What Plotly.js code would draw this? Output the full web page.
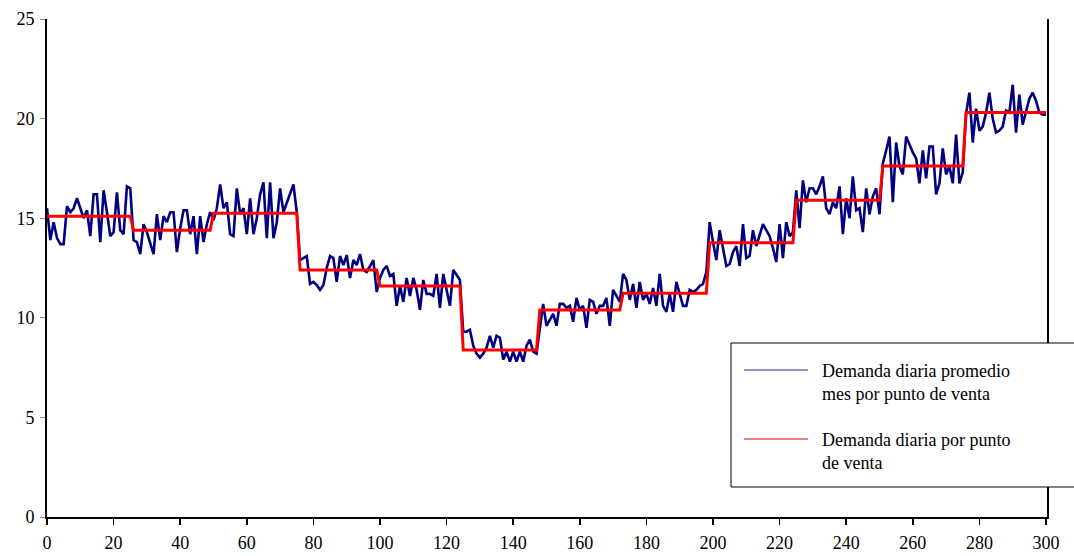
<!DOCTYPE html>
<html>
<head>
<meta charset="utf-8">
<script src="https://cdn.plot.ly/plotly-3.0.1.min.js"></script>
<style>
html,body{margin:0;padding:0;background:#fff;}
#chart{width:1074px;height:556px;}
</style>
</head>
<body>
<div id="chart"></div>
<script>
// Daily demand (blue), one value per day, days 0..300, grouped by month
const dailyM1 = [15.5,13.9,14.8,14.0,13.7,13.7,15.6,15.3,15.5,16.0,15.5,15.0,15.4,14.1,16.2,16.2,13.8,16.4,15.3,14.1,14.3,16.3,14.4,14.2,16.6,16.5];
const dailyM2 = [13.9,13.8,13.2,14.7,14.3,13.7,13.2,15.2,13.9,15.1,14.8,15.3,15.3,13.3,14.5,15.4,15.4,14.2,15.1,13.2,15.1,13.8,14.7,15.3];
const dailyM3 = [14.9,15.5,16.7,15.5,15.8,14.2,14.1,16.5,15.2,15.5,14.2,16.0,14.2,15.0,16.2,16.8,14.0,16.8,14.0,14.8,16.5,15.3,15.8,16.2,16.7,15.3];
const dailyM4 = [12.9,13.0,13.1,11.7,11.8,11.65,11.4,11.65,12.5,13.1,13.0,11.8,13.1,12.65,13.15,12.0,12.9,12.65,13.2,12.4,12.3,12.6,12.9,11.3];
const dailyM5 = [12.0,12.4,12.6,12.1,12.2,10.6,11.6,10.8,12.0,11.1,12.0,11.4,10.4,11.9,11.2,11.2,11.1,12.2,10.5,12.2,11.3,10.6,12.4,12.15,11.9];
const dailyM6 = [9.3,9.3,9.4,8.6,8.2,8.0,8.2,8.5,9.1,8.5,9.1,9.0,7.9,8.3,7.8,8.3,7.8,8.3,7.8,8.6,8.9,8.3,8.2];
const dailyM7 = [9.4,10.7,9.6,9.9,10.2,9.6,10.7,10.7,10.5,10.6,9.8,11.0,10.4,10.6,9.5,10.9,10.8,10.2,10.6,10.6,11.0,9.6,11.4,11.1,10.8];
const dailyM8 = [12.2,11.9,10.9,11.7,10.5,11.8,10.9,11.2,10.7,11.5,10.6,12.2,10.6,10.3,11.2,10.3,11.8,11.2,10.6,10.6,11.4,11.3,11.4,11.6,11.7,12.3];
const dailyM9 = [14.8,13.8,12.9,14.4,13.5,12.6,12.7,13.3,13.6,12.6,14.7,13.0,13.1,14.4,13.6,14.2,14.7,14.4,14.1,13.5,12.8,14.7,13.0,14.8,14.1,14.3];
const dailyM10 = [16.4,14.5,16.9,15.8,16.5,16.5,16.2,16.6,17.1,15.5,15.2,15.8,15.5,16.6,14.2,16.0,15.0,17.1,15.4,15.5,14.3,16.5,15.2,16.1,16.5,15.2];
const dailyM11 = [17.75,18.4,19.1,15.8,18.8,17.6,17.2,19.1,18.7,18.3,18.0,16.75,18.4,17.0,18.6,18.6,16.2,16.75,18.5,17.2,17.6,16.75,19.2,16.75,17.3];
const dailyM12 = [20.26,21.3,18.8,20.5,19.4,19.6,20.3,21.3,20.0,19.3,19.4,19.6,20.4,20.3,21.7,19.3,21.2,19.7,20.3,21.0,21.3,20.9,20.3,20.2,20.2];

// Monthly average (red step line)
const monthlyMean = [15.1,14.4,15.25,12.4,11.6,8.38,10.39,11.23,13.77,15.9,17.62,20.31];

const xTicks = [0,20,40,60,80,100,120,140,160,180,200,220,240,260,280,300];
const yTicks = [0,5,10,15,20,25];
const legendLabels = ["Demanda diaria promedio<br>mes por punto de venta", "Demanda diaria por punto<br>de venta"];

const months = [dailyM1,dailyM2,dailyM3,dailyM4,dailyM5,dailyM6,dailyM7,dailyM8,dailyM9,dailyM10,dailyM11,dailyM12];
const days = [], blue = [], red = [];
let d = 0;
months.forEach((arr, mi) => {
  arr.forEach(v => { days.push(d); blue.push(v); red.push(monthlyMean[mi]); d++; });
});

const serif = "Liberation Serif, Times New Roman, serif";

const traces = [
  {x: days, y: blue, type: 'scatter', mode: 'lines', line: {color: '#000080', width: 2.6}, name: legendLabels[0], showlegend: false, hoverinfo: 'x+y'},
  {x: days, y: red, type: 'scatter', mode: 'lines', line: {color: '#FF0000', width: 3}, name: legendLabels[1], showlegend: false, hoverinfo: 'x+y'}
];

const L = 47, R = 1047, T = 19, B = 517;
const px = v => (v - L) / (R - L);
const py = v => (B - v) / (B - T);

const layout = {
  width: 1074, height: 556,
  margin: {l: L, r: 1074 - R, t: T, b: 556 - B},
  paper_bgcolor: '#ffffff', plot_bgcolor: '#ffffff',
  showlegend: false,
  font: {family: serif, size: 18, color: '#000'},
  xaxis: {
    range: [0, 300.3], tickvals: xTicks, ticktext: xTicks.map(String),
    showgrid: false, zeroline: false,
    showline: true, linecolor: '#000', linewidth: 2,
    ticks: 'outside', ticklen: 6, tickcolor: '#000', tickwidth: 1.5,
    ticklabelstandoff: 2,
    tickfont: {family: serif, size: 18, color: '#000'}
  },
  yaxis: {
    range: [0, 25], tickvals: yTicks, ticktext: yTicks.map(String),
    showgrid: false, zeroline: false,
    showline: true, linecolor: '#000', linewidth: 2, mirror: true,
    ticks: 'outside', ticklen: 5, tickcolor: '#888', tickwidth: 1,
    ticklabelstandoff: 2,
    tickfont: {family: serif, size: 18, color: '#000'}
  },
  shapes: [
    {type: 'rect', xref: 'paper', yref: 'paper', x0: px(731), x1: px(1090), y0: py(487), y1: py(343),
     line: {color: '#000', width: 1}, fillcolor: '#ffffff', layer: 'above'},
    {type: 'line', xref: 'paper', yref: 'paper', x0: px(744), x1: px(808), y0: py(370), y1: py(370),
     line: {color: '#2a2aa0', width: 1}, layer: 'above'},
    {type: 'line', xref: 'paper', yref: 'paper', x0: px(744), x1: px(808), y0: py(439), y1: py(439),
     line: {color: '#e00000', width: 1}, layer: 'above'}
  ],
  annotations: [
    {xref: 'paper', yref: 'paper', x: px(820), y: py(382), xanchor: 'left', yanchor: 'middle', align: 'left',
     text: legendLabels[0], showarrow: false, font: {family: serif, size: 18, color: '#000'}},
    {xref: 'paper', yref: 'paper', x: px(820), y: py(451), xanchor: 'left', yanchor: 'middle', align: 'left',
     text: legendLabels[1], showarrow: false, font: {family: serif, size: 18, color: '#000'}}
  ]
};

Plotly.newPlot('chart', traces, layout, {displayModeBar: false, staticPlot: true});
</script>
</body>
</html>
